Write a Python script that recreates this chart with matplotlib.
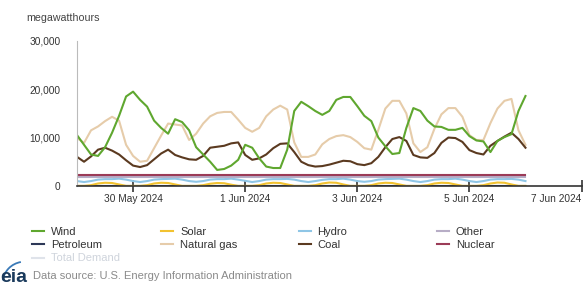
import matplotlib
matplotlib.use("Agg")
import matplotlib.pyplot as plt
from matplotlib.lines import Line2D
from matplotlib.patches import Arc
import pandas as pd

plt.rcParams['font.family'] = ['Liberation Sans', 'DejaVu Sans']

# 3-hourly values, starting 29 May 2024 00:00
start = "2024-05-29 00:00"
wind = [10500, 8500, 6500, 6200, 8000, 11000, 14500, 18500, 19500, 17800,
        16400, 13500, 12000, 10800, 13800, 13200, 11500, 8000, 6500, 5000,
        3300, 3500, 4200, 5400, 8500, 7900, 5700, 4000, 3700, 3700,
        7500, 15500, 17400, 16500, 15500, 14700, 15500, 17800, 18400, 18400,
        16500, 14500, 13400, 10000, 8200, 6600, 6800, 12000, 16100, 15500,
        13500, 12300, 12200, 11600, 11600, 12000, 10300, 9400, 9200, 7000,
        9300, 10100, 10700, 15500, 18600]
natural_gas = [9900, 8900, 11500, 12300, 13400, 14300, 13500, 8500, 6200, 5000,
               5200, 7800, 10400, 12900, 12700, 12500, 9500, 10800, 12900, 14400,
               15100, 15300, 15300, 13700, 12000, 11200, 12000, 14400, 15800, 16600,
               15800, 9000, 6000, 6000, 6500, 8600, 9700, 10300, 10500, 10100,
               9100, 7800, 7500, 11600, 16000, 17600, 17600, 15000, 8800, 7000,
               8000, 11800, 14800, 16100, 16100, 14300, 10500, 9500, 9500, 13000,
               16000, 17600, 18000, 11500, 8500]
coal = [6000, 5000, 6100, 7500, 7900, 7300, 6500, 5300, 4200, 3900,
        4300, 5500, 6700, 7500, 6400, 5900, 5500, 5400, 6200, 7900,
        8100, 8300, 8800, 9000, 6400, 5400, 5700, 6500, 7800, 8700,
        8800, 7000, 5000, 4300, 4000, 4100, 4400, 4800, 5200, 5100,
        4500, 4300, 4700, 6000, 8000, 9700, 10100, 9300, 6400, 5900,
        5800, 6800, 8900, 10000, 9900, 9100, 7400, 6800, 6500, 8300,
        9300, 10200, 11000, 9700, 7900]
nuclear = [2350] * 65
other = [1750] * 65
hydro = [1000, 800, 1000, 1300, 1400, 1400, 1500, 1300,
         1000, 800, 1000, 1300, 1400, 1450, 1500, 1300,
         1000, 850, 1000, 1300, 1400, 1400, 1500, 1300,
         1050, 800, 1000, 1300, 1400, 1400, 1450, 1300,
         1000, 800, 1000, 1250, 1400, 1400, 1500, 1300,
         1000, 850, 1000, 1300, 1400, 1450, 1500, 1300,
         1000, 800, 1000, 1300, 1400, 1400, 1500, 1300,
         1000, 800, 1000, 1300, 1400, 1400, 1450, 1300,
         1000]
solar = [0, 0, 150, 500, 650, 600, 300, 0,
         0, 0, 150, 500, 650, 600, 300, 0,
         0, 0, 150, 450, 600, 550, 250, 0,
         0, 0, 150, 500, 650, 600, 300, 0,
         0, 0, 150, 500, 700, 650, 300, 0,
         0, 0, 150, 500, 650, 600, 300, 0,
         0, 0, 150, 500, 650, 600, 300, 0,
         0, 0, 150, 500, 700, 650, 300, 0,
         0]
petroleum = [60] * 65

tick_dates = ["2024-05-30", "2024-06-01", "2024-06-03", "2024-06-05", "2024-06-07"]
tick_labels = ["30 May 2024", "1 Jun 2024", "3 Jun 2024", "5 Jun 2024", "7 Jun 2024"]
y_ticks = [0, 10000, 20000, 30000]
y_labels = ["0", "10,000", "20,000", "30,000"]

colors = {
    "Wind": "#5fa72f", "Solar": "#f2c230", "Hydro": "#8fc6e6", "Other": "#b7adc6",
    "Petroleum": "#2d3857", "Natural gas": "#e6ccaa", "Coal": "#5b3a20",
    "Nuclear": "#9b3b57", "Total Demand": "#dfe3ea",
}

times = pd.date_range(start, periods=len(wind), freq="3h")

fig = plt.figure(figsize=(5.88, 2.86), dpi=100)
ax = fig.add_axes([0.131, 0.350, 0.858, 0.507])

series = [("Petroleum", petroleum), ("Solar", solar), ("Hydro", hydro),
          ("Other", other), ("Nuclear", nuclear), ("Natural gas", natural_gas),
          ("Coal", coal), ("Wind", wind)]
for name, vals in series:
    ax.plot(times, vals, color=colors[name], lw=1.5, solid_joinstyle="round")

ax.set_ylim(0, 30000)
ax.set_xlim(pd.Timestamp("2024-05-29"), pd.Timestamp("2024-06-07"))
ax.set_yticks(y_ticks)
ax.set_yticklabels(y_labels)
ax.set_xticks(pd.to_datetime(tick_dates))
ax.set_xticklabels(tick_labels)
ax.get_xticklabels()[-1].set_horizontalalignment("right")
ax.tick_params(axis="y", length=0, labelsize=7.3, colors="#333333", pad=12)
ax.tick_params(axis="x", length=8, direction="inout", width=1.2, labelsize=7.3,
               colors="#333333", pad=2)
for s in ["top", "right"]:
    ax.spines[s].set_visible(False)
ax.spines["left"].set_color("#bbbbbb")
ax.spines["left"].set_linewidth(0.8)
ax.spines["bottom"].set_color("#333333")
ax.spines["bottom"].set_linewidth(1.2)
ax.patch.set_visible(False)

fig.text(0.044, 0.938, "megawatthours", fontsize=7.7, color="#444444", va="center")

# Legend, laid out as four columns
cols = [["Wind", "Petroleum", "Total Demand"], ["Solar", "Natural gas"],
        ["Hydro", "Coal"], ["Other", "Nuclear"]]
col_x = [0.054, 0.274, 0.508, 0.743]
for cx, names in zip(col_x, cols):
    handles = [Line2D([], [], color=colors[n], lw=1.5) for n in names]
    leg = fig.legend(handles, names, loc="upper left", bbox_to_anchor=(cx, 0.207),
                     frameon=False, fontsize=8, handlelength=1.1, handletextpad=0.6,
                     labelspacing=0.3, borderaxespad=0, borderpad=0)
    for t, n in zip(leg.get_texts(), names):
        t.set_color("#cfd4dc" if n == "Total Demand" else "#333333")

fig.text(0.0, 0.0, "eia", fontsize=14, fontweight="bold", color="#1a3a5c", va="bottom")
fig.patches.append(Arc((0.042, 0.01), 0.075, 0.15, theta1=95, theta2=165,
                       transform=fig.transFigure, color="#3a7ab8", lw=1.3))
fig.text(0.056, 0.016, "Data source: U.S. Energy Information Administration",
         fontsize=8, color="#8a8a8a", va="bottom")

fig.savefig("out.png", dpi=100)
